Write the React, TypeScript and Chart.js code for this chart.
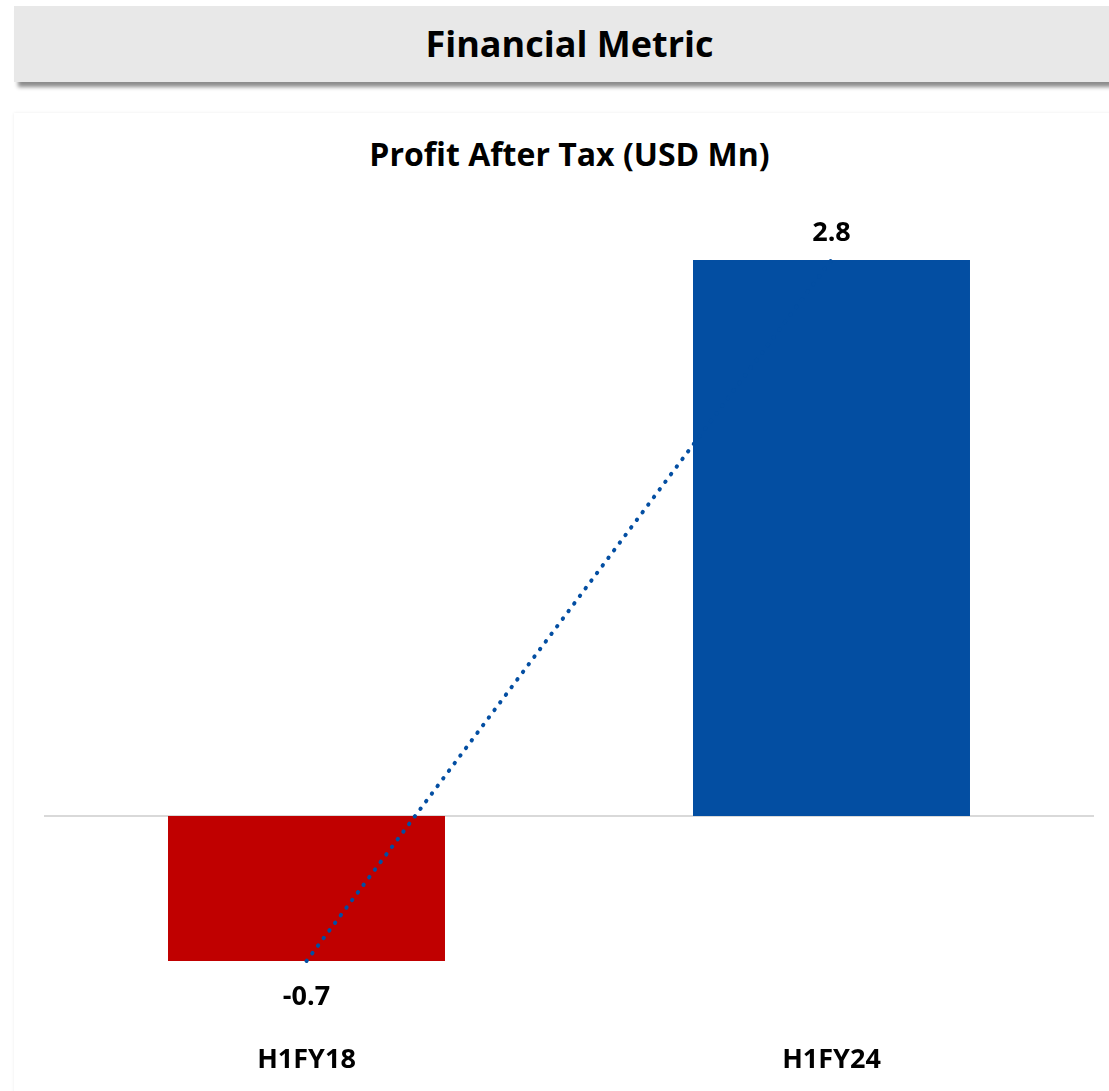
import React, { useEffect, useRef } from "react";
import { Chart, registerables } from "chart.js";

Chart.register(...registerables);

const headerTitle = "Financial Metric";
const chartTitle = "Profit After Tax (USD Mn)";
const categories = ["H1FY18", "H1FY24"];
const profitAfterTax = [-0.73, 2.8];
const barColors = ["#C00000", "#034EA2"];
const trendColor = "#034EA2";
const yMin = -1;
const yMax = 3;

const FONT = "'Open Sans', 'DejaVu Sans', sans-serif";

const zeroLinePlugin = {
  id: "zeroLine",
  beforeDatasetsDraw(chart: any) {
    const { ctx, chartArea, scales } = chart;
    const py = scales.y.getPixelForValue(0);
    ctx.save();
    ctx.strokeStyle = "#D9D9D9";
    ctx.lineWidth = 2;
    ctx.beginPath();
    ctx.moveTo(chartArea.left, py);
    ctx.lineTo(chartArea.right, py);
    ctx.stroke();
    ctx.restore();
  },
};

const barLabelPlugin = {
  id: "barLabels",
  afterDatasetsDraw(chart: any) {
    const { ctx } = chart;
    const idx = chart.data.datasets.findIndex((d: any) => d.type === "bar");
    const meta = chart.getDatasetMeta(idx);
    const values = chart.data.datasets[idx].data as number[];
    ctx.save();
    ctx.font = `bold 27px ${FONT}`;
    ctx.fillStyle = "#000";
    ctx.textAlign = "center";
    ctx.textBaseline = "alphabetic";
    meta.data.forEach((el: any, i: number) => {
      const v = values[i];
      const txt = v.toFixed(1);
      const y = v >= 0 ? el.y - 19 : el.y + 44;
      ctx.fillText(txt, el.x, y);
    });
    ctx.restore();
  },
};

export default function App() {
  const canvasRef = useRef<HTMLCanvasElement | null>(null);

  useEffect(() => {
    if (!canvasRef.current) return;
    const chart = new Chart(canvasRef.current, {
      type: "bar",
      data: {
        labels: categories,
        datasets: [
          {
            type: "line",
            label: "Trend",
            data: profitAfterTax,
            borderColor: trendColor,
            borderWidth: 4,
            borderDash: [0.5, 9],
            borderCapStyle: "round",
            pointRadius: 0,
            fill: false,
            tension: 0,
            order: 0,
          } as any,
          {
            type: "bar",
            label: "Profit After Tax",
            data: profitAfterTax,
            backgroundColor: barColors,
            borderWidth: 0,
            categoryPercentage: 1,
            barPercentage: 0.5276,
            order: 1,
          } as any,
        ],
      },
      options: {
        responsive: false,
        animation: false,
        devicePixelRatio: 1,
        layout: { padding: { left: 44, right: 15, top: 220.2, bottom: 0 } },
        plugins: {
          legend: { display: false },
          title: { display: false },
          tooltip: { enabled: false },
        },
        scales: {
          x: {
            type: "category",
            offset: true,
            grid: { display: false, drawTicks: false },
            border: { display: false },
            ticks: {
              color: "#000",
              padding: 29.5,
              font: { family: FONT, size: 27, weight: "bold" },
            },
            afterFit(scale: any) {
              scale.height = 76.4;
            },
          },
          y: {
            display: false,
            min: yMin,
            max: yMax,
          },
        },
      } as any,
      plugins: [zeroLinePlugin, barLabelPlugin],
    });
    return () => chart.destroy();
  }, []);

  return (
    <div
      style={{
        position: "absolute",
        left: 0,
        top: 0,
        width: 1109,
        height: 1091,
        overflow: "hidden",
        background: "#fff",
      }}
    >
      <div
        style={{
          position: "absolute",
          left: 14,
          top: 6,
          width: 1111,
          height: 76,
          background: "#E8E8E8",
          boxShadow: "4px 5px 4px rgba(0,0,0,0.45)",
        }}
      />
      <div
        style={{
          position: "absolute",
          left: 14,
          top: 113,
          width: 1111,
          height: 1000,
          background: "#fff",
          boxShadow: "0 0 3px rgba(0,0,0,0.08)",
        }}
      />
      <div
        style={{
          position: "absolute",
          left: 14,
          top: 26,
          width: 1111,
          textAlign: "center",
          fontFamily: FONT,
          fontWeight: 700,
          fontSize: 36,
          lineHeight: "36px",
          color: "#000",
          whiteSpace: "nowrap",
        }}
      >
        {headerTitle}
      </div>
      <div
        style={{
          position: "absolute",
          left: 14,
          top: 138,
          width: 1111,
          textAlign: "center",
          fontFamily: FONT,
          fontWeight: 700,
          fontSize: 32,
          lineHeight: "32px",
          color: "#000",
          whiteSpace: "nowrap",
        }}
      >
        {chartTitle}
      </div>
      <canvas
        ref={canvasRef}
        width={1109}
        height={1091}
        style={{ position: "absolute", left: 0, top: 0, width: 1109, height: 1091 }}
      />
    </div>
  );
}
